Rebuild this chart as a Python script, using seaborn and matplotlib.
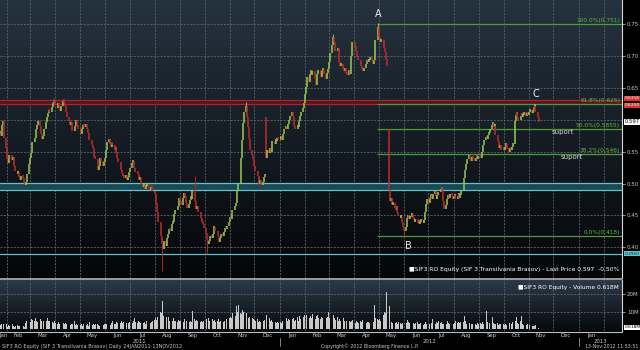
import numpy as np
import pandas as pd
import matplotlib
matplotlib.use("Agg")
import matplotlib.pyplot as plt
import matplotlib.dates as mdates
import matplotlib.transforms as mtrans
from matplotlib.colors import LinearSegmentedColormap
from matplotlib.lines import Line2D
import seaborn as sns

sns.set_theme(style="dark")
plt.rcParams["font.family"] = ["DejaVu Sans"]
NARROW = ["Liberation Sans Narrow", "DejaVu Sans"]

# ---------------- data (daily closes, per month) ----------------
c11_01 = [0.578, 0.574, 0.592, 0.598, 0.571, 0.556]
c11_02 = [0.538, 0.532, 0.540, 0.545, 0.537, 0.542, 0.535, 0.528, 0.520, 0.515,
          0.518, 0.510, 0.505, 0.512, 0.508, 0.501, 0.498, 0.503, 0.515, 0.530]
c11_03 = [0.540, 0.548, 0.556, 0.565, 0.572, 0.580, 0.586, 0.592, 0.598, 0.590,
          0.578, 0.570, 0.575, 0.585, 0.596, 0.604, 0.610, 0.615, 0.612, 0.620,
          0.626, 0.630, 0.628]
c11_04 = [0.624, 0.618, 0.626, 0.620, 0.614, 0.622, 0.630, 0.627, 0.621, 0.612,
          0.604, 0.598, 0.592, 0.596, 0.588, 0.582, 0.590, 0.594, 0.600, 0.592, 0.586]
c11_05 = [0.582, 0.578, 0.585, 0.592, 0.588, 0.594, 0.586, 0.579, 0.572, 0.568,
          0.560, 0.556, 0.550, 0.542, 0.538, 0.530, 0.522, 0.528, 0.540, 0.535,
          0.528, 0.534]
c11_06 = [0.540, 0.552, 0.565, 0.570, 0.562, 0.558, 0.564, 0.560, 0.553, 0.558,
          0.548, 0.540, 0.534, 0.528, 0.522, 0.516, 0.512, 0.508, 0.514, 0.505,
          0.510, 0.518]
c11_07 = [0.525, 0.532, 0.536, 0.530, 0.524, 0.518, 0.515, 0.510, 0.505, 0.508,
          0.500, 0.495, 0.498, 0.492, 0.496, 0.500, 0.494, 0.490, 0.495, 0.492, 0.488]
c11_08 = [0.484, 0.478, 0.470, 0.455, 0.440, 0.430, 0.418, 0.405, 0.398, 0.410,
          0.402, 0.415, 0.420, 0.428, 0.425, 0.436, 0.440, 0.445, 0.452, 0.458,
          0.465, 0.472, 0.478]
c11_09 = [0.472, 0.466, 0.478, 0.485, 0.480, 0.470, 0.462, 0.468, 0.474, 0.480,
          0.476, 0.490, 0.472, 0.466, 0.460, 0.464, 0.456, 0.450, 0.446, 0.440,
          0.436, 0.430]
c11_10 = [0.422, 0.412, 0.405, 0.410, 0.418, 0.414, 0.420, 0.428, 0.432, 0.425,
          0.418, 0.412, 0.408, 0.414, 0.420, 0.418, 0.424, 0.430, 0.428, 0.434, 0.440]
c11_11 = [0.448, 0.445, 0.452, 0.458, 0.465, 0.470, 0.478, 0.488, 0.500, 0.515,
          0.540, 0.568, 0.595, 0.612, 0.622, 0.605, 0.588, 0.570, 0.552, 0.545,
          0.538, 0.532]
c11_12 = [0.528, 0.520, 0.512, 0.506, 0.500, 0.505, 0.498, 0.502, 0.510, 0.515,
          0.540, 0.552, 0.548, 0.556, 0.550, 0.560, 0.566, 0.562, 0.570, 0.566,
          0.572, 0.568]
c12_01 = [0.570, 0.575, 0.568, 0.578, 0.585, 0.590, 0.586, 0.594, 0.600, 0.606,
          0.612, 0.604, 0.596, 0.590, 0.586, 0.592, 0.588, 0.598, 0.606, 0.612,
          0.618, 0.626]
c12_02 = [0.640, 0.652, 0.668, 0.660, 0.672, 0.678, 0.670, 0.676, 0.665, 0.655,
          0.662, 0.672, 0.678, 0.674, 0.668, 0.676, 0.680, 0.672, 0.664, 0.674, 0.680]
c12_03 = [0.690, 0.705, 0.718, 0.730, 0.722, 0.715, 0.708, 0.712, 0.700, 0.690,
          0.684, 0.688, 0.680, 0.676, 0.682, 0.674, 0.670, 0.678, 0.672, 0.700,
          0.715, 0.722]
c12_04 = [0.716, 0.708, 0.702, 0.698, 0.694, 0.688, 0.684, 0.680, 0.676, 0.682,
          0.688, 0.694, 0.690, 0.694, 0.698, 0.692, 0.688, 0.694, 0.698, 0.726, 0.745]
c12_05 = [0.738, 0.730, 0.722, 0.726, 0.716, 0.712, 0.706, 0.695, 0.684, 0.490,
          0.472, 0.478, 0.466, 0.470, 0.462, 0.458, 0.464, 0.455, 0.450, 0.446,
          0.448, 0.440, 0.432]
c12_06 = [0.425, 0.432, 0.446, 0.450, 0.444, 0.448, 0.452, 0.446, 0.442, 0.440,
          0.444, 0.438, 0.442, 0.436, 0.440, 0.444, 0.438, 0.442, 0.455, 0.468, 0.475]
c12_07 = [0.470, 0.478, 0.482, 0.476, 0.484, 0.488, 0.480, 0.476, 0.482, 0.486,
          0.490, 0.494, 0.486, 0.472, 0.460, 0.466, 0.476, 0.482, 0.478, 0.484,
          0.480, 0.476]
c12_08 = [0.478, 0.482, 0.476, 0.480, 0.484, 0.478, 0.482, 0.490, 0.495, 0.508,
          0.522, 0.530, 0.538, 0.545, 0.540, 0.536, 0.542, 0.538, 0.535, 0.540,
          0.544, 0.538, 0.542]
c12_09 = [0.540, 0.544, 0.550, 0.560, 0.568, 0.572, 0.570, 0.576, 0.580, 0.586,
          0.592, 0.595, 0.588, 0.590, 0.576, 0.566, 0.560, 0.555, 0.560, 0.552]
c12_10 = [0.556, 0.552, 0.558, 0.562, 0.554, 0.550, 0.556, 0.553, 0.558, 0.562,
          0.598, 0.608, 0.612, 0.604, 0.600, 0.606, 0.610, 0.604, 0.608, 0.612,
          0.606, 0.610, 0.608]
c12_11 = [0.612, 0.614, 0.610, 0.615, 0.620, 0.622, 0.612, 0.604, 0.597]

# daily volume (millions), per month
v11_01 = [2.5, 3.0, 2.0, 3.5, 2.8, 3.0]
v11_02 = [2.0, 1.5, 2.5, 2.0, 1.8, 3.0, 2.2, 1.5, 2.0, 2.5, 1.8, 2.2, 3.0, 2.5,
          2.0, 1.5, 2.8, 3.5, 4.5, 5.5]
v11_03 = [5.0, 4.2, 6.0, 5.5, 4.8, 6.5, 5.0, 4.2, 5.8, 6.0, 4.5, 5.2, 6.8, 5.0,
          4.5, 5.5, 6.2, 4.8, 5.0, 6.0, 4.2, 3.8, 4.5]
v11_04 = [3.5, 3.0, 4.0, 2.8, 3.2, 2.5, 3.8, 3.0, 2.6, 3.4, 2.8, 2.2, 3.0, 2.5,
          3.2, 2.8, 4.5, 2.6, 3.0, 2.4, 2.8]
v11_05 = [2.5, 3.0, 2.2, 4.0, 2.8, 2.5, 3.5, 2.8, 2.2, 4.2, 3.5, 2.6, 3.0, 2.4,
          2.8, 3.2, 2.5, 2.2, 3.0, 3.8, 2.6, 3.2]
v11_06 = [3.5, 2.8, 3.2, 4.0, 3.0, 2.6, 3.8, 4.5, 3.2, 2.8, 4.2, 3.5, 3.0, 3.8,
          4.8, 3.5, 5.2, 4.0, 3.6, 4.2, 5.0, 3.8]
v11_07 = [4.2, 5.5, 3.8, 4.5, 6.5, 4.0, 3.5, 4.8, 4.2, 3.8, 5.0, 3.5, 4.2, 3.8,
          3.2, 4.5, 3.6, 4.0, 3.4, 4.2, 4.8]
v11_08 = [5.5, 6.5, 5.2, 7.0, 8.5, 10.0, 9.0, 16.0, 9.5, 7.5, 6.8, 8.0, 5.5, 7.2,
          4.5, 5.8, 4.8, 6.2, 4.5, 5.0, 4.2, 5.5, 4.8]
v11_09 = [4.5, 5.2, 4.0, 5.8, 4.5, 6.0, 5.0, 4.2, 5.5, 5.0, 4.4, 10.5, 6.0, 4.8,
          5.2, 4.6, 5.8, 4.2, 5.0, 4.4, 5.6, 4.8]
v11_10 = [6.0, 5.2, 4.8, 6.2, 5.0, 4.5, 5.8, 4.6, 5.2, 4.0, 4.8, 5.6, 4.2, 4.6,
          5.0, 4.4, 4.8, 5.5, 4.2, 5.6, 6.2]
v11_11 = [8.5, 7.0, 6.5, 9.0, 8.0, 7.5, 13.0, 10.0, 14.0, 9.0, 8.5, 11.0, 20.0,
          10.0, 9.5, 16.0, 7.8, 6.5, 7.0, 5.8, 6.5, 6.0]
v11_12 = [5.2, 4.6, 5.8, 4.2, 5.0, 4.4, 5.5, 4.8, 5.2, 6.0, 20.0, 8.0, 6.5, 5.5,
          4.8, 5.2, 4.4, 3.8, 4.2, 3.6, 4.4, 3.8]
v12_01 = [4.2, 3.6, 5.0, 4.4, 5.8, 6.2, 4.8, 5.5, 6.0, 5.2, 9.0, 6.0, 6.5, 4.6,
          5.4, 6.8, 5.0, 7.5, 5.8, 6.2, 7.0, 8.0]
v12_02 = [7.2, 6.5, 8.0, 6.5, 11.0, 7.8, 6.2, 8.5, 7.0, 6.0, 7.5, 8.2, 6.5, 5.8,
          7.0, 6.2, 8.8, 5.5, 6.4, 7.2, 5.8]
v12_03 = [10.0, 6.5, 25.0, 9.0, 8.0, 6.2, 5.5, 7.0, 5.0, 6.0, 4.8, 5.2, 6.5, 4.5,
          5.8, 4.2, 5.0, 4.6, 5.4, 4.0, 4.8, 5.5]
v12_04 = [4.5, 3.8, 5.0, 4.2, 3.6, 4.8, 4.0, 5.2, 3.8, 4.4, 3.6, 4.0, 5.0, 4.2,
          3.8, 4.6, 5.2, 4.4, 14.0, 6.5, 5.8]
v12_05 = [5.5, 6.0, 5.0, 7.0, 8.0, 10.0, 9.0, 12.0, 21.0, 13.0, 6.5, 5.0, 4.2,
          3.8, 4.5, 3.6, 4.0, 3.2, 4.4, 3.5, 3.0, 3.8, 4.2]
v12_06 = [6.0, 3.8, 5.2, 3.5, 4.2, 3.8, 3.2, 4.0, 3.6, 3.0, 3.4, 4.2, 3.2, 2.8,
          3.6, 3.0, 2.6, 3.2, 4.0, 3.5, 3.0]
v12_07 = [3.2, 2.8, 3.8, 3.5, 6.0, 3.2, 3.0, 4.2, 3.4, 5.0, 3.6, 4.0, 3.2, 2.8,
          3.5, 3.0, 4.5, 3.2, 3.6, 3.0, 2.8, 3.4]
v12_08 = [3.0, 3.6, 4.5, 3.8, 4.2, 3.5, 4.0, 5.5, 4.2, 7.5, 5.0, 4.0, 3.2, 3.8,
          3.0, 2.6, 3.2, 2.8, 3.5, 3.0, 2.6, 3.4, 2.8]
v12_09 = [3.4, 3.0, 4.0, 3.2, 3.6, 10.5, 4.0, 2.8, 4.5, 3.6, 7.0, 3.2, 3.8, 3.0,
          2.8, 3.4, 2.6, 3.2, 3.0, 2.8]
v12_10 = [3.2, 2.6, 3.0, 2.8, 2.4, 3.4, 2.6, 2.2, 3.0, 4.0, 5.0, 4.5, 7.0, 3.6,
          3.0, 5.0, 7.5, 3.2, 2.6, 3.0, 2.4, 2.8, 2.2]
v12_11 = [2.2, 2.6, 2.0, 2.4, 1.8, 2.2, 2.6, 1.6, 0.618]

month_starts = ["2011-01-24", "2011-02-01", "2011-03-01", "2011-04-01", "2011-05-02",
                "2011-06-01", "2011-07-01", "2011-08-01", "2011-09-01", "2011-10-03",
                "2011-11-01", "2011-12-01", "2012-01-02", "2012-02-01", "2012-03-01",
                "2012-04-02", "2012-05-01", "2012-06-01", "2012-07-02", "2012-08-01",
                "2012-09-03", "2012-10-01", "2012-11-01"]
closes_by_month = [c11_01, c11_02, c11_03, c11_04, c11_05, c11_06, c11_07, c11_08,
                   c11_09, c11_10, c11_11, c11_12, c12_01, c12_02, c12_03, c12_04,
                   c12_05, c12_06, c12_07, c12_08, c12_09, c12_10, c12_11]
volumes_by_month = [v11_01, v11_02, v11_03, v11_04, v11_05, v11_06, v11_07, v11_08,
                    v11_09, v11_10, v11_11, v11_12, v12_01, v12_02, v12_03, v12_04,
                    v12_05, v12_06, v12_07, v12_08, v12_09, v12_10, v12_11]

gap_open = {"2011-12-15": 0.605, "2012-05-14": 0.585}
wick_high = {"2011-09-19": 0.512, "2011-11-21": 0.628, "2012-03-06": 0.735,
             "2012-04-30": 0.752, "2012-11-08": 0.624}
wick_low = {"2011-08-10": 0.362, "2011-10-04": 0.390, "2012-06-01": 0.418}

fib_levels = [0.751, 0.625, 0.5855, 0.546, 0.418]
fib_labels = ["100.0%(0.751)", "61.8%(0.625)", "50.0%(0.5855)", "38.2%(0.546)", "0.0%(0.418)"]
red_band = (0.6250, 0.6316)
cyan_band = (0.4894, 0.5004)
cyan_line = 0.3900
last_price = 0.597
last_volume = 0.618

# ---------------- build table ----------------
rows = []
for start, cl, vo in zip(month_starts, closes_by_month, volumes_by_month):
    days = pd.bdate_range(start, periods=len(cl))
    for d, c, v in zip(days, cl, vo):
        rows.append((d, c, v))
df = pd.DataFrame(rows, columns=["date", "close", "volume"])
df["open"] = df["close"].shift(1)
df.loc[0, "open"] = df.loc[0, "close"]
for k, v in gap_open.items():
    df.loc[df["date"] == pd.Timestamp(k), "open"] = v
df["x"] = mdates.date2num(df["date"])
df["lo"] = df[["open", "close"]].min(axis=1)
df["hi"] = np.maximum(df[["open", "close"]].max(axis=1), df["lo"] + 0.005)
df["up"] = df["close"] >= df["open"]

# ---------------- figure ----------------
W, H = 640, 350
fig = plt.figure(figsize=(6.4, 3.5), dpi=100, facecolor="black")
ax = fig.add_axes([0, 1 - 278 / H, 622 / W, 278 / H])
axv = fig.add_axes([0, 1 - 331 / H, 622 / W, 51 / H])

def gradient(a, top, bottom):
    cmap = LinearSegmentedColormap.from_list("bg", [bottom, top])
    a.imshow(np.linspace(0, 1, 256)[:, None], cmap=cmap, origin="lower",
             extent=(0, 1, 0, 1), transform=a.transAxes, aspect="auto",
             zorder=0, interpolation="bilinear")

gradient(ax, "#25323f", "#050608")
gradient(axv, "#2c3b4a", "#07090b")

xl = mdates.date2num(pd.Timestamp("2011-01-23 10:00"))
xr = mdates.date2num(pd.Timestamp("2013-02-23"))
for a in (ax, axv):
    a.set_xlim(xl, xr)
    for s in a.spines.values():
        s.set_visible(False)
    a.spines["right"].set_visible(True)
    a.spines["right"].set_color("#d8d8d8")
    a.spines["right"].set_linewidth(0.8)
    a.set_xticks([])
    a.grid(False)
ax.set_ylim(0.3517, 0.7881)
axv.set_ylim(-0.9, 27.9)

grid_kw = dict(color="#5a6570", lw=0.6, dashes=(2.5, 1.5), zorder=1)
month_lines = mdates.date2num(pd.date_range("2011-02-01", "2013-02-01", freq="MS"))
for m in month_lines:
    ax.axvline(m, **grid_kw)
    axv.axvline(m, **grid_kw)
price_ticks = [0.40, 0.45, 0.50, 0.55, 0.60, 0.65, 0.70, 0.75]
for t in price_ticks:
    ax.axhline(t, **grid_kw)
for t in (10, 20):
    axv.axhline(t, **grid_kw)

# bands
ax.axhspan(*red_band, color="#4a1820", zorder=1.5, lw=0)
for y in red_band:
    ax.axhline(y, color="#a8262c", lw=0.9, zorder=2)
ax.axhspan(*cyan_band, color="#1b4852", zorder=1.5, lw=0)
for y in cyan_band:
    ax.axhline(y, color="#5cc4cc", lw=0.9, zorder=2)
ax.axhline(cyan_line, color="#5cc4cc", lw=0.9, zorder=2)

# fibonacci
fib_start = mdates.date2num(pd.Timestamp("2012-04-29"))
ax.hlines(fib_levels, fib_start, xr, colors="#4e9a3a", lw=0.9, zorder=2.5)
blend = mtrans.blended_transform_factory(ax.transAxes, ax.transData)
for lv, lb in zip(fib_levels, fib_labels):
    ax.text(0.997, lv + 0.0012, lb, transform=blend, ha="right", va="bottom",
            fontsize=4.2, color="#63b845", family=NARROW, zorder=6)

# candles
cols = np.where(df["up"], "#9acb4e", "#c42a2a")
ax.vlines(df["x"], df["lo"], df["hi"], colors=cols, lw=1.1, zorder=4)
for k, v in wick_high.items():
    r = df[df["date"] == pd.Timestamp(k)].iloc[0]
    ax.vlines(r["x"], r["hi"], v, colors=("#9acb4e" if r["up"] else "#c42a2a"), lw=0.6, zorder=4)
for k, v in wick_low.items():
    r = df[df["date"] == pd.Timestamp(k)].iloc[0]
    ax.vlines(r["x"], v, r["lo"], colors=("#9acb4e" if r["up"] else "#c42a2a"), lw=0.6, zorder=4)

# volume
axv.bar(df["x"], df["volume"], width=0.9, color="#c9c9c9", lw=0, zorder=3)

# right axis labels
ax.yaxis.tick_right()
show_ticks = [t for t in price_ticks if abs(t - 0.60) > 1e-9]
ax.set_yticks(show_ticks)
ax.set_yticklabels([f"{t:.2f}" for t in show_ticks], fontsize=4, color="#c8c8c8",
                   family=NARROW)
ax.tick_params(axis="y", length=2, width=0.5, color="#d0d0d0", pad=1.5, right=True)
axv.yaxis.tick_right()
axv.set_yticks([10, 20])
axv.set_yticklabels(["10M", "20M"], fontsize=4, color="#c8c8c8", family=NARROW)
axv.tick_params(axis="y", length=2, width=0.5, color="#d0d0d0", pad=1.5, right=True)

def box(a, y, txt, fc, tc, tr, fs=3.8):
    a.text(1.004, y, txt, transform=tr, fontsize=fs, color=tc, ha="left",
           va="center", family=NARROW, clip_on=False, zorder=8,
           bbox=dict(boxstyle="square,pad=0.12", fc=fc, ec="none"))

box(ax, red_band[1] + 0.002, f"{red_band[1]:.4f}", "#d23434", "white", blend, 3.2)
box(ax, red_band[0] - 0.002, f"{red_band[0]:.4f}", "#d23434", "white", blend, 3.2)
box(ax, last_price, f"{last_price:.3f}", "white", "black", blend)
box(ax, cyan_line, f"{cyan_line:.4f}", "#5cc4cc", "#0b2b30", blend, 3.2)
blendv = mtrans.blended_transform_factory(axv.transAxes, axv.transData)
box(axv, last_volume + 0.6, f"{last_volume:.3f}M", "white", "black", blendv, 3.2)

# annotations
def dn(s):
    return mdates.date2num(pd.Timestamp(s))

ax.text(dn("2012-05-01"), 0.766, "A", color="#ececec", fontsize=7, ha="center", va="center", zorder=7)
ax.text(dn("2012-06-07"), 0.402, "B", color="#ececec", fontsize=7, ha="center", va="center", zorder=7)
ax.text(dn("2012-11-09"), 0.640, "C", color="#ececec", fontsize=7, ha="center", va="center", zorder=7)
ax.text(dn("2012-12-12"), 0.581, "suport", color="#d4d4d4", fontsize=5, ha="center", va="center", zorder=7)
ax.text(dn("2012-12-24"), 0.5417, "suport", color="#d4d4d4", fontsize=5, ha="center", va="center", zorder=7)

# legends
fig.text(619 / W, 1 - 270 / H,
         "\u25a0SIF3 RO Equity (SIF 3 Transilvania Brasov) - Last Price 0.597  -0.50%",
         color="white", fontsize=4.3, ha="right", va="center", family=NARROW)
fig.text(619 / W, 1 - 288 / H, "\u25a0SIF3 RO Equity - Volume 0.618M",
         color="white", fontsize=4.2, ha="right", va="center", family=NARROW)

# separators
fig.add_artist(Line2D([0, 622 / W], [1 - 279 / H] * 2, color="#9c9c9c", lw=1.4))
fig.add_artist(Line2D([0, 622 / W], [1 - 331.5 / H] * 2, color="#bdbdbd", lw=0.8))

# month / year labels
bl = mtrans.blended_transform_factory(axv.transData, axv.transAxes)
mstarts = pd.date_range("2011-01-01", "2013-01-01", freq="MS")
for ms in mstarts:
    me = ms + pd.offsets.MonthBegin(1)
    a0 = max(mdates.date2num(ms), xl)
    a1 = min(mdates.date2num(me), xr)
    axv.text((a0 + a1) / 2, -0.08, ms.strftime("%b"), transform=bl, fontsize=3.9,
             color="#c8c8c8", ha="center", va="center", family=NARROW, clip_on=False)
for yr in (2011, 2012, 2013):
    a0 = max(dn(f"{yr}-01-01"), xl)
    a1 = min(dn(f"{yr + 1}-01-01"), xr)
    axv.text((a0 + a1) / 2, -0.2, str(yr), transform=bl, fontsize=3.9,
             color="#c8c8c8", ha="center", va="center", family=NARROW, clip_on=False)
for yr in (2012, 2013):
    axv.plot([dn(f"{yr}-01-01")] * 2, [-0.14, -0.3], transform=bl, color="#9a9a9a",
             lw=0.6, clip_on=False)

# footer
fig.text(0.003, 1 - 346.5 / H,
         "SIF3 RO Equity (SIF 3 Transilvania Brasov) Daily 24JAN2011-13NOV2012",
         color="#c8c8c8", fontsize=3.6, ha="left", va="center", family=NARROW)
fig.text(370 / W, 1 - 346.5 / H, "Copyright\u00a9 2012 Bloomberg Finance L.P.",
         color="#c8c8c8", fontsize=3.4, ha="center", va="center", family=NARROW)
fig.text(638 / W, 1 - 346.5 / H, "13-Nov-2012 11:53:51",
         color="#c8c8c8", fontsize=3.4, ha="right", va="center", family=NARROW)

fig.savefig("out.png", dpi=100, facecolor="black")
